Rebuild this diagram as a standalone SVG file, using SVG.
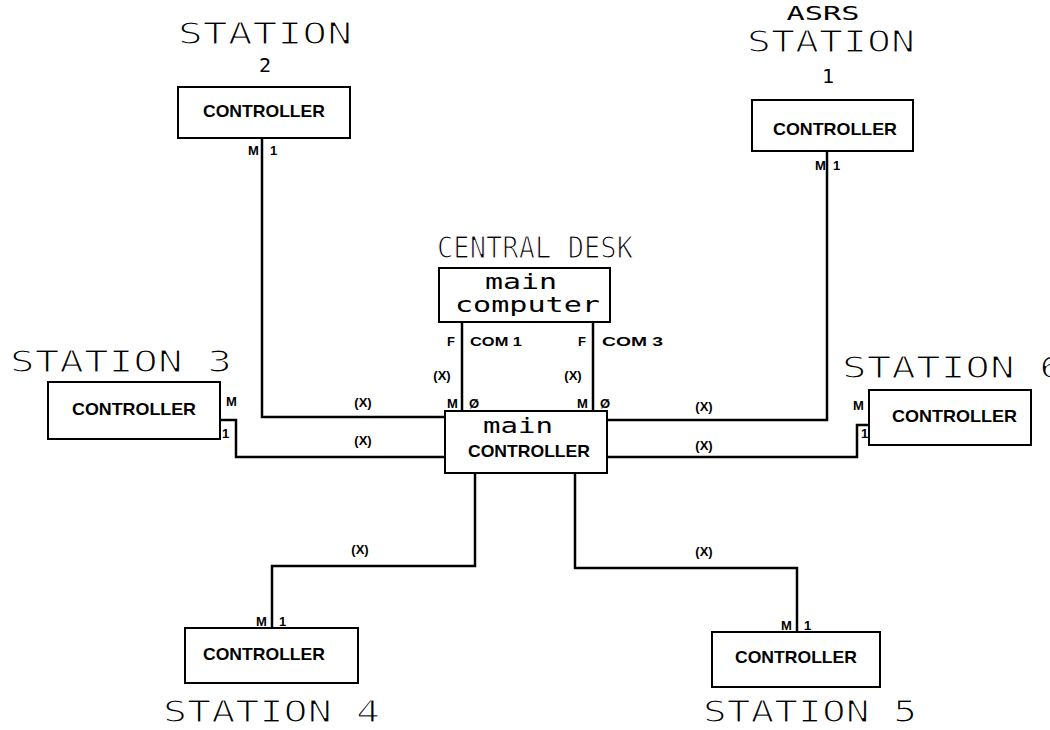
<svg xmlns="http://www.w3.org/2000/svg" width="1050" height="730" viewBox="0 0 1050 730">
<style>
.bg{fill:#fff}
.box{fill:#fff;stroke:#000;stroke-width:2}
.ln{fill:none;stroke:#000;stroke-width:2.5}
.title{font-family:"DejaVu Sans Mono","Liberation Mono",monospace;font-size:30px;fill:#000;stroke:#fff;stroke-width:1.2px}
.num{font-family:"DejaVu Sans Mono","Liberation Mono",monospace;font-size:20px;fill:#000;text-anchor:middle}
.ctl{font-family:"Liberation Sans",Arial,sans-serif;font-weight:bold;font-size:17px;fill:#000}
.low{font-family:"DejaVu Sans Mono","Liberation Mono",monospace;font-size:22px;fill:#000}
.sm{font-family:"Liberation Sans",Arial,sans-serif;font-weight:bold;font-size:13px;fill:#000}
</style>
<rect class="bg" x="0" y="0" width="1050" height="730"/>

<g id="connectors">
  <polyline class="ln" points="262,138 262,417 445,417"/>
  <polyline class="ln" points="827,151 827,420 607,420"/>
  <polyline class="ln" points="220,420 236,420 236,457 445,457"/>
  <polyline class="ln" points="607,457 857,457 857,425 869,425"/>
  <line class="ln" x1="462" y1="322" x2="462" y2="411"/>
  <line class="ln" x1="593" y1="322" x2="593" y2="411"/>
  <polyline class="ln" points="475,473 475,566 272,566 272,628"/>
  <polyline class="ln" points="575,473 575,568 797,568 797,632"/>
  <text class="sm" x="363" y="407" text-anchor="middle">(X)</text>
  <text class="sm" x="363" y="445" text-anchor="middle">(X)</text>
  <text class="sm" x="704" y="411" text-anchor="middle">(X)</text>
  <text class="sm" x="704" y="450" text-anchor="middle">(X)</text>
  <text class="sm" x="442" y="380" text-anchor="middle">(X)</text>
  <text class="sm" x="573" y="380" text-anchor="middle">(X)</text>
  <text class="sm" x="360" y="554" text-anchor="middle">(X)</text>
  <text class="sm" x="704" y="556" text-anchor="middle">(X)</text>
</g>

<g id="station2">
  <text class="title" x="178" y="44" textLength="174" lengthAdjust="spacingAndGlyphs">STATION</text>
  <text class="num" x="265" y="72">2</text>
  <rect class="box" x="178" y="87" width="172" height="51"/>
  <text class="ctl" x="203" y="117" textLength="122" lengthAdjust="spacingAndGlyphs">CONTROLLER</text>
  <text class="sm" x="248" y="155">M</text>
  <text class="sm" x="270" y="155">1</text>
</g>

<g id="station1">
  <text class="num" x="823" y="20" font-size="16" textLength="73" lengthAdjust="spacingAndGlyphs">ASRS</text>
  <text class="title" x="747" y="52" textLength="168" lengthAdjust="spacingAndGlyphs">STATION</text>
  <text class="num" x="828" y="83">1</text>
  <rect class="box" x="752" y="100" width="161" height="51"/>
  <text class="ctl" x="773" y="135" textLength="124" lengthAdjust="spacingAndGlyphs">CONTROLLER</text>
  <text class="sm" x="815" y="170">M</text>
  <text class="sm" x="833" y="170">1</text>
</g>

<g id="central-desk">
  <text class="title" x="437" y="258" font-size="26" textLength="196" lengthAdjust="spacingAndGlyphs">CENTRAL DESK</text>
  <rect class="box" x="439" y="268" width="171" height="54"/>
  <text class="low" x="485" y="289" textLength="72" lengthAdjust="spacingAndGlyphs">main</text>
  <text class="low" x="455" y="312" font-size="20" textLength="145" lengthAdjust="spacingAndGlyphs">computer</text>
  <text class="sm" x="447" y="346">F</text>
  <text class="sm" x="470" y="346" textLength="52" lengthAdjust="spacingAndGlyphs">COM 1</text>
  <text class="sm" x="578" y="346">F</text>
  <text class="sm" x="602" y="346" textLength="61" lengthAdjust="spacingAndGlyphs">COM 3</text>
</g>

<g id="main-controller">
  <rect class="box" x="445" y="411" width="162" height="62"/>
  <text class="low" x="483" y="433" textLength="70" lengthAdjust="spacingAndGlyphs">main</text>
  <text class="ctl" x="468" y="457" textLength="122" lengthAdjust="spacingAndGlyphs">CONTROLLER</text>
  <text class="sm" x="447" y="408">M</text>
  <text class="sm" x="469" y="408">Ø</text>
  <text class="sm" x="577" y="408">M</text>
  <text class="sm" x="600" y="408">Ø</text>
</g>

<g id="station3">
  <text class="title" x="10" y="372" textLength="222" lengthAdjust="spacingAndGlyphs">STATION 3</text>
  <rect class="box" x="48" y="382" width="172" height="57"/>
  <text class="ctl" x="72" y="415" textLength="124" lengthAdjust="spacingAndGlyphs">CONTROLLER</text>
  <text class="sm" x="226" y="406">M</text>
  <text class="sm" x="222" y="438">1</text>
</g>

<g id="station6">
  <text class="title" x="842" y="378" textLength="222" lengthAdjust="spacingAndGlyphs">STATION 6</text>
  <rect class="box" x="869" y="390" width="162" height="55"/>
  <text class="ctl" x="892" y="422" textLength="125" lengthAdjust="spacingAndGlyphs">CONTROLLER</text>
  <text class="sm" x="853" y="410">M</text>
  <text class="sm" x="861" y="438">1</text>
</g>

<g id="station4">
  <rect class="box" x="185" y="628" width="173" height="55"/>
  <text class="ctl" x="203" y="660" textLength="122" lengthAdjust="spacingAndGlyphs">CONTROLLER</text>
  <text class="sm" x="256" y="626">M</text>
  <text class="sm" x="279" y="626">1</text>
  <text class="title" x="163" y="722" textLength="217" lengthAdjust="spacingAndGlyphs">STATION 4</text>
</g>

<g id="station5">
  <rect class="box" x="712" y="632" width="168" height="55"/>
  <text class="ctl" x="735" y="663" textLength="122" lengthAdjust="spacingAndGlyphs">CONTROLLER</text>
  <text class="sm" x="781" y="630">M</text>
  <text class="sm" x="804" y="630">1</text>
  <text class="title" x="703" y="722" textLength="214" lengthAdjust="spacingAndGlyphs">STATION 5</text>
</g>
</svg>
